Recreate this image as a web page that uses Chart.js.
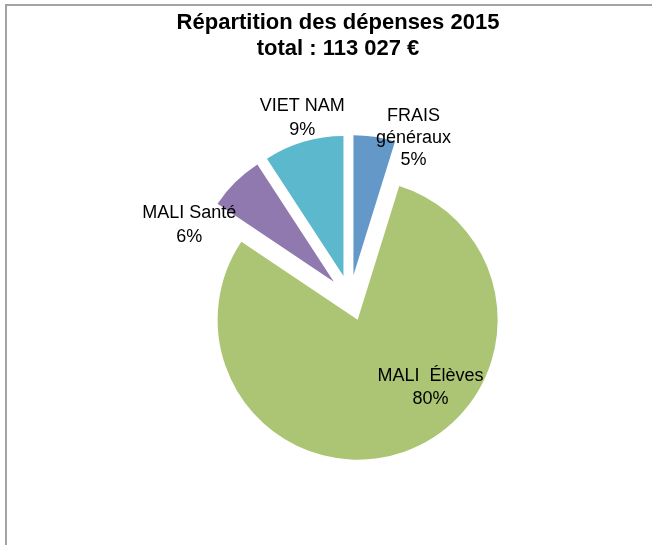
<!DOCTYPE html>
<html>
<head>
<meta charset="utf-8">
<script src="https://cdn.jsdelivr.net/npm/chart.js@4/dist/chart.umd.min.js"></script>
<style>
  html, body { margin: 0; padding: 0; background: #fff; }
  #wrap { position: relative; width: 652px; height: 545px; overflow: hidden; }
  #frame { position: absolute; left: 5px; top: 4px; width: 660px; height: 560px;
           border-left: 2px solid #a3a3a3; border-top: 2px solid #a3a3a3; }
  #title { position: absolute; top: 9px; left: 338px; transform: translateX(-50%);
           font-family: "Liberation Sans", Arial, sans-serif; font-weight: bold;
           font-size: 22px; line-height: 26px; text-align: center; white-space: nowrap; color: #000; }
  canvas { position: absolute; left: 0; top: 0; }
</style>
</head>
<body>
<div id="wrap">
  <div id="frame"></div>
  <canvas id="c" width="652" height="545"></canvas>
  <div id="title">Répartition des dépenses 2015<br>total : 113 027 €</div>
</div>
<script>
// ---- data ----
const categories = [["FRAIS", "généraux"], ["MALI  Élèves"], ["MALI Santé"], ["VIET NAM"]];
const values = [4.8, 79.6, 6.4, 9.2];
const pctLabels = ["5%", "80%", "6%", "9%"];

// ---- styles ----
const colors = ["#6398C8", "#ACC575", "#9079AE", "#5CB8CD"];
const explode = 23;
// label placement: angle shift from slice bisector (deg) and radial factor
const labelShift = [13, -22.5, -21, 1.7];
const labelRadius = [1.23, 0.86, 1.26, 1.33];
const labelLine = [22, 23, 24, 24];

const explodePlugin = {
  id: 'explode',
  afterDatasetsUpdate(chart) {
    const meta = chart.getDatasetMeta(0);
    meta.data.forEach(arc => {
      const mid = (arc.startAngle + arc.endAngle) / 2;
      arc.x += Math.cos(mid) * explode;
      arc.y += Math.sin(mid) * explode;
    });
  }
};

const labelPlugin = {
  id: 'sliceLabels',
  afterDatasetsDraw(chart) {
    const ctx = chart.ctx;
    const ca = chart.chartArea;
    const cx = (ca.left + ca.right) / 2, cy = (ca.top + ca.bottom) / 2;
    const meta = chart.getDatasetMeta(0);
    ctx.save();
    ctx.font = '18px "Liberation Sans", Arial, sans-serif';
    ctx.fillStyle = '#000';
    ctx.textAlign = 'center';
    ctx.textBaseline = 'middle';
    meta.data.forEach((arc, i) => {
      const mid = (arc.startAngle + arc.endAngle) / 2 + labelShift[i] * Math.PI / 180;
      const r = arc.outerRadius * labelRadius[i];
      const x = cx + Math.cos(mid) * r;
      const y = cy + Math.sin(mid) * r;
      const lines = categories[i].concat([pctLabels[i]]);
      const lh = labelLine[i];
      const y0 = y - (lines.length - 1) * lh / 2;
      lines.forEach((t, k) => ctx.fillText(t, x, y0 + k * lh));
    });
    ctx.restore();
  }
};

new Chart(document.getElementById('c'), {
  type: 'pie',
  data: {
    labels: categories.map(c => c.join(' ')),
    datasets: [{
      data: values,
      backgroundColor: colors,
      borderWidth: 0,
      offset: 0
    }]
  },
  options: {
    responsive: false,
    animation: false,
    events: [],
    radius: 140,
    layout: { padding: { left: 48, right: 0, top: 51, bottom: 0 } },
    plugins: {
      legend: { display: false },
      title: { display: false },
      tooltip: { enabled: false }
    }
  },
  plugins: [explodePlugin, labelPlugin]
});
</script>
</body>
</html>
